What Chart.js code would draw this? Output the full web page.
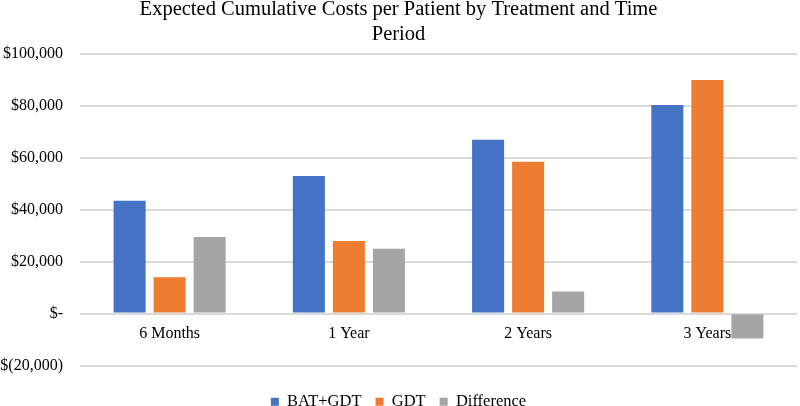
<!DOCTYPE html>
<html>
<head>
<meta charset="utf-8">
<script src="https://cdn.jsdelivr.net/npm/chart.js@4"></script>
<style>
html,body{margin:0;padding:0;background:#fff;}
#wrap{width:800px;height:406px;}
</style>
</head>
<body>
<div id="wrap"><canvas id="c" width="800" height="406"></canvas></div>
<script>
const categories = ['6 Months', '1 Year', '2 Years', '3 Years'];
const batGdt = [43500, 53000, 67000, 80400];
const gdt = [14000, 28000, 58500, 90000];
const difference = [29500, 25000, 8500, -9600];
const titleLines = ['Expected Cumulative Costs per Patient by Treatment and Time', 'Period'];

const serif = "'Liberation Serif', 'Times New Roman', serif";

function money(v) {
  if (v === 0) return '$-';
  const s = Math.abs(v).toLocaleString('en-US');
  return v < 0 ? '$(' + s + ')' : '$' + s;
}

const legendShift = {
  id: 'legendShift',
  beforeInit(chart) {
    const orig = chart.legend.fit;
    chart.legend.fit = function () {
      orig.call(this);
      this.height -= 14;
    };
  }
};

new Chart(document.getElementById('c'), {
  type: 'bar',
  data: {
    labels: categories,
    datasets: [
      { label: 'BAT+GDT', data: batGdt, backgroundColor: '#4472C4' },
      { label: 'GDT', data: gdt, backgroundColor: '#ED7D31' },
      { label: 'Difference', data: difference, backgroundColor: '#A5A5A5' }
    ]
  },
  plugins: [legendShift],
  options: {
    responsive: false,
    animation: false,
    devicePixelRatio: 1,
    layout: { padding: { left: 0, right: 3, top: 0, bottom: 0 } },
    datasets: { bar: { categoryPercentage: 0.67, barPercentage: 0.8 } },
    plugins: {
      title: {
        display: true,
        text: titleLines,
        color: '#000',
        font: { family: serif, size: 20.5, weight: 'normal', lineHeight: 1.22 },
        padding: { top: -3, bottom: 7 }
      },
      legend: {
        position: 'bottom',
        title: { display: true, text: '', font: { size: 2, lineHeight: 1 }, padding: { top: 0, bottom: 12 } },
        labels: {
          color: '#000',
          boxWidth: 8,
          boxHeight: 8,
          padding: 14,
          font: { family: serif, size: 16.5 }
        }
      },
      tooltip: { enabled: false }
    },
    scales: {
      x: {
        position: { y: 0 },
        grid: { display: false },
        border: { display: false },
        ticks: { color: '#000', font: { family: serif, size: 16 }, padding: 3 }
      },
      y: {
        min: -20000,
        max: 100000,
        afterFit: (s) => { s.width = 80; },
        grid: { color: '#d9d9d9', lineWidth: 2, drawTicks: false },
        border: { display: false },
        ticks: {
          stepSize: 20000,
          color: '#000',
          padding: 17,
          font: { family: serif, size: 16 },
          callback: (v) => money(v)
        }
      }
    }
  }
});
</script>
</body>
</html>
